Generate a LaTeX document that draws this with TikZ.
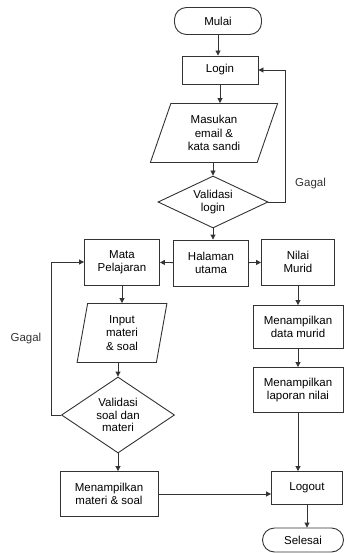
\documentclass[tikz,border=0pt]{standalone}
\usepackage{fontspec}
\setmainfont{Liberation Sans}
\usetikzlibrary{shapes.geometric,arrows.meta}

\tikzset{
	huruf/.style={font=\fontsize{11.5}{13.5}\selectfont, align=center},
	base/.style={huruf, draw=black!80, line width=0.9pt, inner sep=1pt},
	terminal/.style={base, rounded corners=12pt},
	proses/.style={base, rectangle},
	io/.style={base, trapezium, trapezium stretches=true,
		trapezium left angle=#1, trapezium right angle=180-#1},
	cek/.style={base, diamond, inner sep=0pt},
	panah/.style={-{Triangle[length=5pt,width=5pt]}, line width=0.9pt, black!80}
}

\begin{document}
\begin{tikzpicture}[x=1pt, y=-1pt]
	\useasboundingbox (0,0) rectangle (344,553);

	\node[terminal, minimum width=87pt, minimum height=27pt] (mulai) at (218, 21) {Mulai};
	\node[proses, minimum width=76pt, minimum height=28pt] (login) at (220, 70) {Login};
	\node[io=71, minimum width=128pt, minimum height=59pt] (masukan) at (214, 133) {Masukan\\email \&\\kata sandi};
	\node[cek, minimum width=110pt, minimum height=52pt, label={[huruf]center:Validasi\\login}] (vlogin) at (213, 202) {};

	\node[proses, minimum width=75pt, minimum height=46pt] (mapel) at (122, 262) {Mata\\Pelajaran};
	\node[proses, minimum width=75pt, minimum height=46pt] (halaman) at (211, 263) {Halaman\\utama};
	\node[proses, minimum width=73pt, minimum height=46pt] (nilai) at (298, 262) {Nilai\\Murid};

	\node[io=82, minimum width=90pt, minimum height=59pt] (input) at (122, 333) {Input\\materi\\\& soal};
	\node[cek, minimum width=113pt, minimum height=76pt, label={[huruf, font=\fontsize{11.5}{12.5}\selectfont]center:Validasi\\soal dan\\materi}] (vsoal) at (118, 415) {};
	\node[proses, minimum width=98pt, minimum height=45pt] (tampil) at (109, 494) {Menampilkan\\materi \& soal};

	\node[proses, minimum width=90pt, minimum height=43pt] (datamurid) at (298, 327) {Menampilkan\\data murid};
	\node[proses, minimum width=90pt, minimum height=45pt] (laporan) at (298, 390) {Menampilkan\\laporan nilai};
	\node[proses, minimum width=71pt, minimum height=33pt] (logout) at (307, 488) {Logout};
	\node[terminal, minimum width=81pt, minimum height=24pt] (selesai) at (303, 540) {Selesai};

	\path[panah] (mulai) edge (mulai.south |- login.north);
	\path[panah] (login) edge (login.south |- masukan.north);
	\path[panah] (masukan.south -| vlogin) edge (vlogin.north);
	\path[panah] (vlogin) edge (vlogin.south |- halaman.north);
	\draw[panah] (vlogin.east) -- ++(17,0) |- (login.east)
		node[huruf, pos=0.07, anchor=west, xshift=6pt] {Gagal};

	\path[panah] (halaman) edge (mapel);
	\path[panah] (halaman) edge (nilai);

	\path[panah] (mapel) edge (input);
	\path[panah] (input.south -| vsoal) edge (vsoal.north);
	\path[panah] (vsoal) edge (vsoal.south |- tampil.north);
	\draw[panah] (vsoal.west) -- ++(-10,0) |- (mapel.west)
		node[huruf, pos=0.25, anchor=east, xshift=-6pt] {Gagal};

	\path[panah] (nilai) edge (datamurid);
	\path[panah] (datamurid) edge (laporan);
	\path[panah] (laporan.south) edge (laporan.south |- logout.north);
	\path[panah] (tampil.east) edge (tampil.east -| logout.west);
	\path[panah] (logout) edge (logout.south |- selesai.north);

\end{tikzpicture}
\end{document}
